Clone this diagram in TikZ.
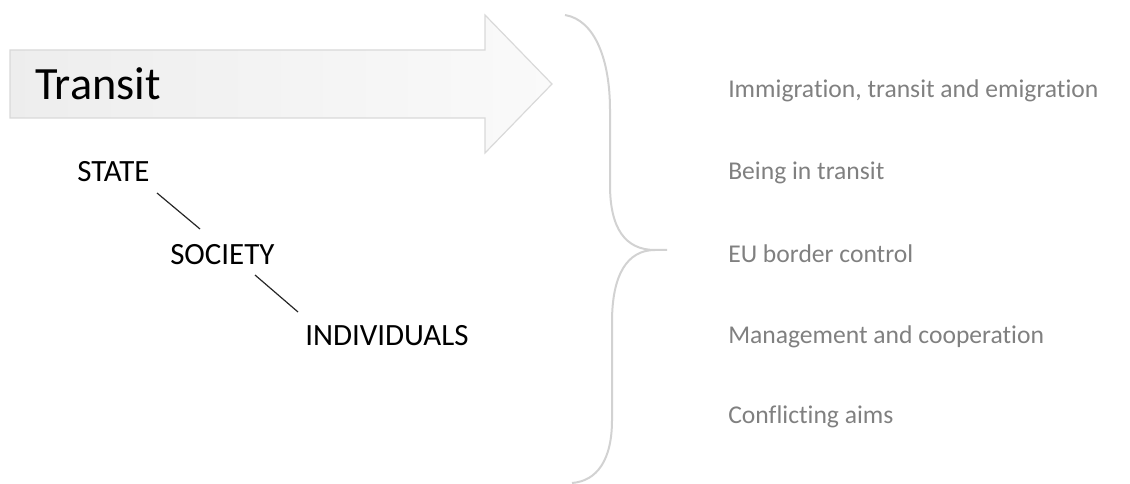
\documentclass[tikz,border=0pt]{standalone}
\usepackage{fontspec}
\setmainfont{Carlito}[RawFeature=-liga]
\definecolor{txtgray}{RGB}{128,128,128}
\definecolor{bracegray}{RGB}{210,210,210}
\definecolor{arrowborder}{RGB}{217,217,217}
\begin{document}
\begin{tikzpicture}[x=0.75pt,y=-0.75pt,
  lefttxt/.style={anchor=base west,inner sep=0pt,font=\fontsize{23.2pt}{28pt}\selectfont,text=black},
  righttxt/.style={anchor=base west,inner sep=0pt,font=\fontsize{19.2pt}{23pt}\selectfont,text=txtgray},
  linkline/.style={draw=black!85,line width=0.9pt}]
\useasboundingbox (0,0) rectangle (1130,484);
% big arrow
\path[draw=arrowborder,line width=0.9pt,left color=black!7,right color=black!2]
  (10,50) -- (485,50) -- (485,15) -- (552,84) -- (485,153) -- (485,118) -- (10,118) -- cycle;
\node[anchor=base west,inner sep=0pt,font=\fontsize{34.7pt}{40pt}\selectfont] (transit) at (35,100) {Transit};
% brace
\draw[bracegray,line width=1.5pt]
  (565,15) .. controls (595,20) and (610,60) .. (610,110) -- (610,185)
  .. controls (610,228) and (625,250) .. (655,250) -- (667,250);
\draw[bracegray,line width=1.5pt]
  (655,250) .. controls (627,250) and (612,275) .. (612,322) -- (612,420)
  .. controls (612,460) and (597,481) .. (572,483);
% left hierarchy
\node[lefttxt] (state) at (77,182) {STATE};
\node[lefttxt] (society) at (170,265) {SOCIETY};
\node[lefttxt] (indiv) at (305,345) {INDIVIDUALS};
\coordinate (l1a) at (157,193);
\coordinate (l1b) at (200,229);
\coordinate (l2a) at (255,275);
\coordinate (l2b) at (298,312);
\draw[linkline] (l1a) -- (l1b);
\draw[linkline] (l2a) -- (l2b);
% right list
\node[righttxt] (r1) at (728,98) {Immigration, transit and emigration};
\node[righttxt] (r2) at (728,180) {Being in transit};
\node[righttxt] (r3) at (728,263) {EU border control};
\node[righttxt] (r4) at (728,343) {Management and cooperation};
\node[righttxt] (r5) at (728,423) {Conflicting aims};
\end{tikzpicture}
\end{document}
